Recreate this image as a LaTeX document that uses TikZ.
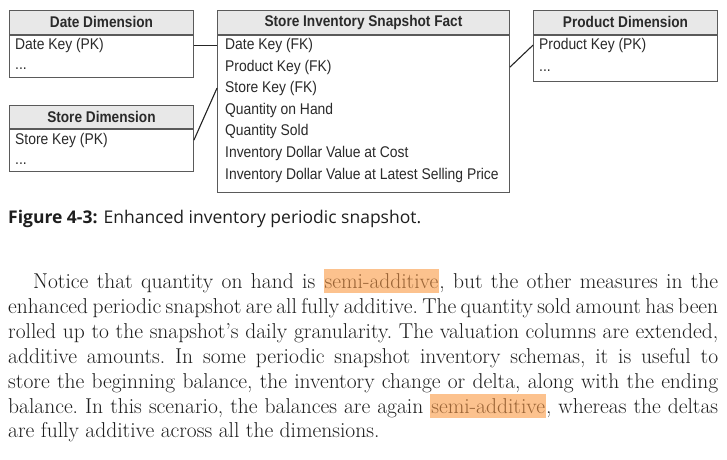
\documentclass[tikz,border=0pt]{standalone}
\usepackage{fontspec}
\usepackage{xcolor}
\newfontfamily\boxfont{Liberation Sans}[FakeStretch=0.895]
\newfontfamily\hdrfont{Liberation Sans}[FakeStretch=0.88]
\newfontfamily\capfont{Open Sans}
\definecolor{hdrfill}{HTML}{E8E8E8}
\definecolor{boxline}{HTML}{5A5A5A}
\definecolor{boxtext}{HTML}{2A2A2A}
\definecolor{hlbg}{HTML}{FCC28E}
\definecolor{hltext}{HTML}{9A6436}
\definecolor{bodytext}{HTML}{1E1E1E}
\newcommand{\hl}[1]{{\setlength{\fboxsep}{1bp}\colorbox{hlbg}{\rule[-3.5bp]{0pt}{22bp}\color{hltext}#1}}}
\newcommand{\pline}[1]{\hbox to 710bp{#1}}
\begin{document}
\begin{tikzpicture}[x=1bp,y=-1bp,
  hdr/.style={draw=boxline, line width=0.9bp, fill=hdrfill, anchor=north west, inner sep=0,
    font=\hdrfont\fontsize{15.5bp}{17bp}\selectfont\bfseries, text=boxtext},
  bodybox/.style={draw=boxline, line width=0.9bp, anchor=north west, inner sep=0},
  row/.style={anchor=mid west, inner sep=0, font=\boxfont\fontsize{15.5bp}{17bp}\selectfont, text=boxtext},
  conn/.style={draw=black!85, line width=1.1bp}]
\useasboundingbox (0,0) rectangle (727,460);
\fill[white] (0,0) rectangle (727,460);
% Date dimension
\node[hdr, minimum width=184bp, minimum height=24bp] (dateh) at (9,10) {Date Dimension};
\node[bodybox, minimum width=184bp, minimum height=42bp] (dateb) at (dateh.south west) {};
\node[row] (d1) at (15,47) {Date Key (PK)};
\node[row] (d2) at (15,67) {...};
% Store dimension
\node[hdr, minimum width=184bp, minimum height=23bp] (storeh) at (9,105) {Store Dimension};
\node[bodybox, minimum width=184bp, minimum height=42bp] (storeb) at (storeh.south west) {};
\node[row] (s1) at (15,142) {Store Key (PK)};
\node[row] (s2) at (15,162) {...};
% Fact
\node[hdr, minimum width=292bp, minimum height=24bp] (facth) at (217,10) {Store Inventory Snapshot Fact};
\node[bodybox, minimum width=292bp, minimum height=157bp] (factb) at (facth.south west) {};
\node[row] (f1) at (225,47) {Date Key (FK)};
\node[row] (f2) at (225,69) {Product Key (FK)};
\node[row] (f3) at (225,90) {Store Key (FK)};
\node[row] (f4) at (225,112) {Quantity on Hand};
\node[row] (f5) at (225,133) {Quantity Sold};
\node[row] (f6) at (225,155) {Inventory Dollar Value at Cost};
\node[row] (f7) at (225,177) {Inventory Dollar Value at Latest Selling Price};
% Product dimension
\node[hdr, minimum width=184bp, minimum height=24bp] (prodh) at (533,10) {Product Dimension};
\node[bodybox, minimum width=184bp, minimum height=46bp] (prodb) at (prodh.south west) {};
\node[row] (p1) at (539,47) {Product Key (PK)};
\node[row] (p2) at (539,69) {...};
% connectors
\draw[conn] (dateb.east |- d1.west) -- (factb.west |- f1.west);
\draw[conn] (storeb.east |- s1.west) -- (factb.west |- f3.west);
\draw[conn] (factb.east |- f2.west) -- (prodb.west |- p1.west);
% caption
\node[anchor=base west, inner sep=0, text=bodytext, font=\capfont\fontsize{17.5bp}{19bp}\selectfont] (cap) at (8,224)
  {\textbf{Figure 4-3:}\hspace{6bp}Enhanced inventory periodic snapshot.};
% paragraph
\node[anchor=base west, inner sep=0, text=bodytext,
  font=\frenchspacing\fontsize{21.5bp}{24.9bp}\selectfont] (para) at (8,288.5)
  {\vtop{%
  \pline{\hskip25bp Notice that quantity on hand is \hl{semi-additive}, but the other measures in the}%
  \pline{enhanced periodic snapshot are all fully additive. The quantity sold amount has been}%
  \pline{rolled up to the snapshot's daily granularity. The valuation columns are extended,}%
  \pline{additive amounts. In some periodic snapshot inventory schemas, it is useful to}%
  \pline{store the beginning balance, the inventory change or delta, along with the ending}%
  \pline{balance. In this scenario, the balances are again \hl{semi-additive}, whereas the deltas}%
  \hbox{are fully additive across all the dimensions.}}};
\end{tikzpicture}
\end{document}
